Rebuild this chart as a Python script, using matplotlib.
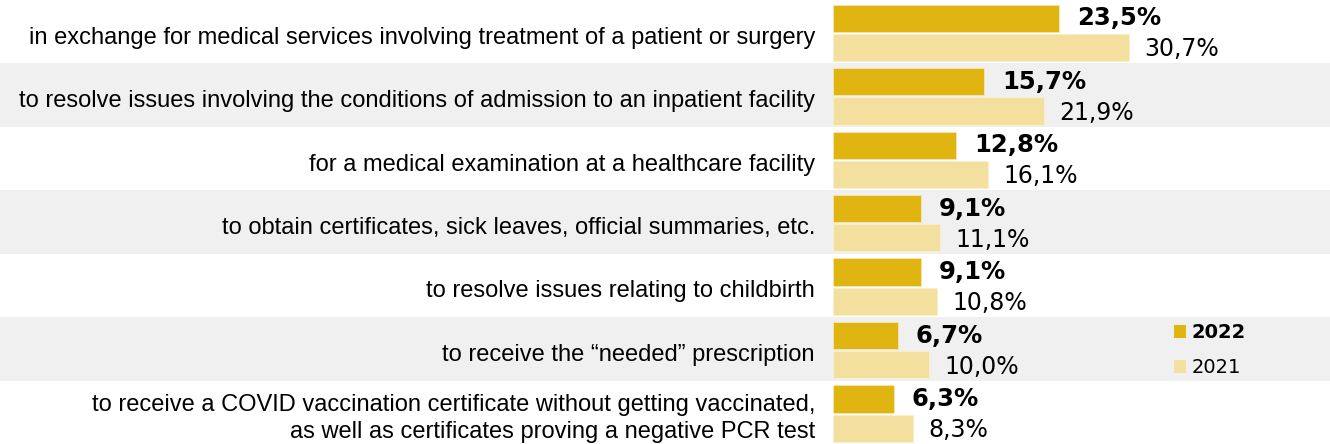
import matplotlib
matplotlib.use("Agg")
import matplotlib.pyplot as plt
from matplotlib.patches import Patch

categories = [
    "in exchange for medical services involving treatment of a patient or surgery",
    "to resolve issues involving the conditions of admission to an inpatient facility",
    "for a medical examination at a healthcare facility",
    "to obtain certificates, sick leaves, official summaries, etc.",
    "to resolve issues relating to childbirth",
    "to receive the \u201cneeded\u201d prescription",
    "to receive a COVID vaccination certificate without getting vaccinated,\nas well as certificates proving a negative PCR test",
]
values_2022 = [23.5, 15.7, 12.8, 9.1, 9.1, 6.7, 6.3]
values_2021 = [30.7, 21.9, 16.1, 11.1, 10.8, 10.0, 8.3]
series_labels = ["2022", "2021"]

c2022 = "#E0B411"
c2021 = "#F3E09F"
band = "#F0F0F0"

W, H = 1330, 444
fig = plt.figure(figsize=(W / 100, H / 100), dpi=100)
left = 833 / W
ax = fig.add_axes([left, 0, 1 - left, 1])
n = len(categories)
ax.set_ylim(n - 0.5, -0.5)
ax.set_xlim(0, 51.6)
ax.axis("off")

for i in range(n):
    if i % 2 == 1:
        ax.axhspan(i - 0.5, i + 0.5, xmin=-left / (1 - left), xmax=1, color=band,
                   zorder=0, clip_on=False, lw=0)

ys = list(range(n))
off1, off2, h = -0.21, 0.25, 0.43
ax.barh([y + off1 for y in ys], values_2022, height=h, color=c2022,
        edgecolor="#F5E7B0", linewidth=0.6, zorder=2)
ax.barh([y + off2 for y in ys], values_2021, height=h, color=c2021,
        edgecolor="#FAF0D0", linewidth=0.6, zorder=2)

for y, v in zip(ys, values_2022):
    ax.annotate(f"{v:.1f}%".replace(".", ","), (v, y + off1),
                xytext=(13, 0), textcoords="offset points", va="center", ha="left",
                fontsize=17.5, fontweight="bold", family="DejaVu Sans", zorder=3)
for y, v in zip(ys, values_2021):
    ax.annotate(f"{v:.1f}%".replace(".", ","), (v, y + off2 + 0.03),
                xytext=(11, 0), textcoords="offset points", va="center", ha="left",
                fontsize=17, family="DejaVu Sans", zorder=3)

for y, c in zip(ys, categories):
    ax.annotate(c, (0, y), xytext=(-13, -4.3), textcoords="offset points",
                va="center", ha="right", fontsize=17, family="Liberation Sans",
                linespacing=1.3, annotation_clip=False)

handles = [Patch(facecolor=c2022, edgecolor="none"), Patch(facecolor=c2021, edgecolor="none")]
leg = fig.legend(handles, series_labels, loc="upper left",
                 bbox_to_anchor=(1156 / W, 1 - 306 / H), frameon=False,
                 handlelength=0.65, handleheight=0.65, handletextpad=0.3,
                 labelspacing=0.8, prop={"family": "DejaVu Sans", "size": 14})
leg.get_texts()[0].set_fontweight("bold")

fig.savefig("out.png", dpi=100)
